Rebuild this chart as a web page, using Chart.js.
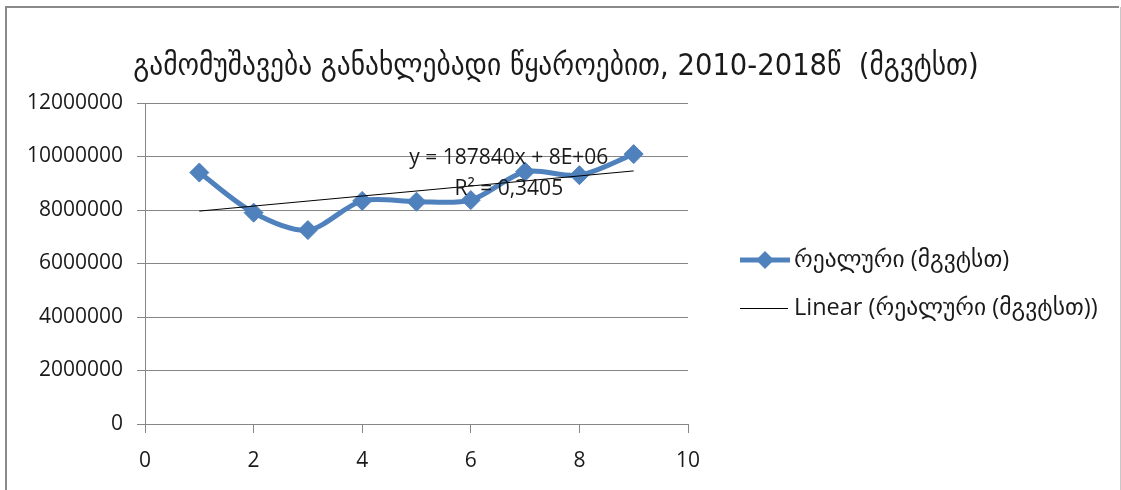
<!DOCTYPE html>
<html>
<head>
<meta charset="utf-8">
<script src="https://cdn.jsdelivr.net/npm/chart.js@4/dist/chart.umd.min.js"></script>
<style>
  html, body { margin: 0; padding: 0; background: #fff; }
  canvas { display: block; }
</style>
</head>
<body>
<canvas id="c" width="1121" height="490"></canvas>
<script>
// Generation from renewable sources, 2010-2018 (MWh), indexed 1..9
const titleText = 'გამომუშავება განახლებადი წყაროებით, 2010-2018წ  (მგვტსთ)';
const seriesLabel = 'რეალური (მგვტსთ)';
const trendLabel = 'Linear (რეალური (მგვტსთ))';
const xValues = [1, 2, 3, 4, 5, 6, 7, 8, 9];
const realValues = [9400000, 7900000, 7250000, 8340000, 8310000, 8370000, 9430000, 9300000, 10090000];
const yTicks = [0, 2000000, 4000000, 6000000, 8000000, 10000000, 12000000];
const xTicks = [0, 2, 4, 6, 8, 10];
const trendSlope = 187840;
const equationText = 'y = 187840x + 8E+06';
const r2Text = 'R² = 0,3405';

// Linear trend through the mean point with the stated slope
const meanX = xValues.reduce((a, b) => a + b, 0) / xValues.length;
const meanY = realValues.reduce((a, b) => a + b, 0) / realValues.length;
const trendIntercept = meanY - trendSlope * meanX;
const trendValues = [xValues[0], xValues[xValues.length - 1]].map(x => ({ x, y: trendSlope * x + trendIntercept }));

const BLUE = '#4f81bd';
const GRID = '#868686';
const TEXT = '#1a1a1a';
const FONT = "'Open Sans', 'DejaVu Sans', sans-serif";

const frameAndText = {
  id: 'frameAndText',
  beforeDraw(chart) {
    const ctx = chart.ctx;
    ctx.save();
    ctx.fillStyle = '#fff';
    ctx.fillRect(0, 0, chart.width, chart.height);
    // outer frame
    ctx.strokeStyle = '#8a8a8a';
    ctx.lineWidth = 2;
    ctx.beginPath();
    ctx.moveTo(6, chart.height + 2);
    ctx.lineTo(6, 7);
    ctx.lineTo(1119, 7);
    ctx.stroke();
    ctx.strokeStyle = '#c8c8c8';
    ctx.lineWidth = 1;
    ctx.beginPath();
    ctx.moveTo(1120.5, 7);
    ctx.lineTo(1120.5, chart.height);
    ctx.stroke();
    ctx.restore();
  },
  afterDraw(chart) {
    const ctx = chart.ctx;
    const xs = chart.scales.x, ys = chart.scales.y;
    ctx.save();
    // title
    ctx.fillStyle = TEXT;
    ctx.textAlign = 'center';
    ctx.textBaseline = 'middle';
    ctx.font = "30.5px 'DejaVu Sans Condensed', 'DejaVu Sans', sans-serif";
    ctx.fillText(titleText, 556, 67);

    // trendline equation
    ctx.font = '21px ' + FONT;
    ctx.fillText(equationText, xs.getPixelForValue(6.7), ys.getPixelForValue(9950000));
    ctx.fillText(r2Text, xs.getPixelForValue(6.7), ys.getPixelForValue(8770000));

    // legend
    const lx0 = 740, lx1 = 790, tx = 794;
    const y1 = 260, y2 = 308;
    ctx.strokeStyle = BLUE;
    ctx.lineWidth = 5;
    ctx.beginPath();
    ctx.moveTo(lx0, y1);
    ctx.lineTo(lx1, y1);
    ctx.stroke();
    ctx.fillStyle = BLUE;
    ctx.beginPath();
    const cx = (lx0 + lx1) / 2, r = 9;
    ctx.moveTo(cx, y1 - r);
    ctx.lineTo(cx + r, y1);
    ctx.lineTo(cx, y1 + r);
    ctx.lineTo(cx - r, y1);
    ctx.closePath();
    ctx.fill();
    ctx.strokeStyle = '#000';
    ctx.lineWidth = 1;
    ctx.beginPath();
    ctx.moveTo(lx0, y2 + 0.5);
    ctx.lineTo(lx1 - 2, y2 + 0.5);
    ctx.stroke();
    ctx.fillStyle = TEXT;
    ctx.textAlign = 'left';
    ctx.font = '23.5px ' + FONT;
    ctx.fillText(seriesLabel, tx, y1);
    ctx.fillText(trendLabel, tx, y2);
    ctx.restore();
  }
};

new Chart(document.getElementById('c'), {
  type: 'line',
  data: {
    datasets: [
      {
        label: seriesLabel,
        data: xValues.map((x, i) => ({ x, y: realValues[i] })),
        borderColor: BLUE,
        backgroundColor: BLUE,
        borderWidth: 5,
        tension: 0.3,
        pointStyle: 'rectRot',
        pointRadius: 9.5,
        pointBorderWidth: 1,
        pointBackgroundColor: BLUE,
        pointBorderColor: BLUE,
        order: 2
      },
      {
        label: trendLabel,
        data: trendValues,
        borderColor: '#000',
        borderWidth: 1,
        pointRadius: 0,
        tension: 0,
        order: 1
      }
    ]
  },
  options: {
    responsive: false,
    animation: false,
    events: [],
    layout: { padding: { top: 103, right: 433, left: 0, bottom: 0 } },
    plugins: {
      legend: { display: false },
      title: { display: false },
      tooltip: { enabled: false }
    },
    scales: {
      x: {
        type: 'linear',
        min: 0,
        max: 10,
        afterBuildTicks(scale) { scale.ticks = xTicks.map(v => ({ value: v })); },
        afterFit(scale) { scale.height = 66; },
        ticks: { color: TEXT, font: { family: FONT, size: 21 }, padding: 15, maxRotation: 0 },
        grid: { drawOnChartArea: false, drawTicks: true, tickLength: 9, color: GRID },
        border: { color: GRID, width: 1 }
      },
      y: {
        min: 0,
        max: 12000000,
        afterBuildTicks(scale) { scale.ticks = yTicks.map(v => ({ value: v })); },
        afterFit(scale) { scale.width = 145; },
        ticks: { color: TEXT, font: { family: FONT, size: 21 }, padding: 14, callback: v => String(v) },
        grid: { color: GRID, tickLength: 8, drawTicks: true },
        border: { color: GRID, width: 1 }
      }
    }
  },
  plugins: [frameAndText]
});
</script>
</body>
</html>
